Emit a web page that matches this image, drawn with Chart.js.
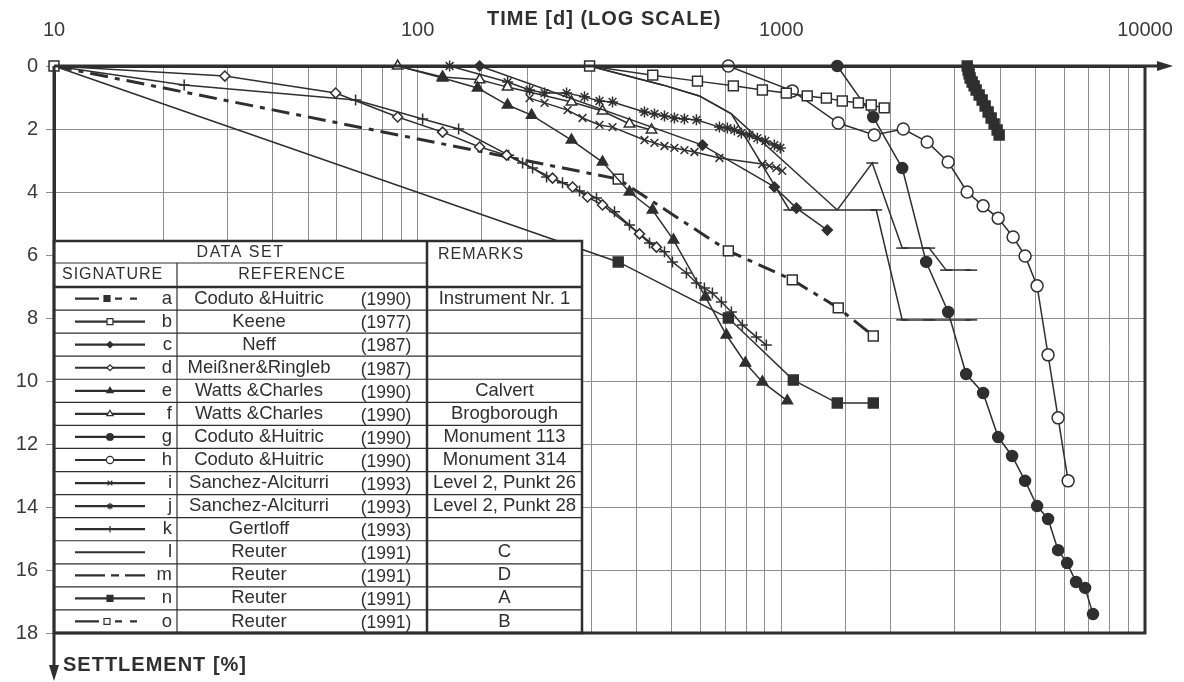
<!DOCTYPE html>
<html>
<head>
<meta charset="utf-8">
<title>Settlement over time</title>
<script src="https://cdn.jsdelivr.net/npm/chart.js@4.4.1/dist/chart.umd.min.js"></script>
<style>
  body { margin: 0; background: #fff; }
</style>
</head>
<body>
<canvas id="chart" width="1184" height="682"></canvas>
<script>
// axis labels
const timeLabels = [10, 100, 1000, 10000];

// a - Coduto & Huitric, Instrument Nr. 1
const aTime = [3244, 3263, 3284, 3305, 3347, 3390, 3433, 3499, 3566, 3634, 3704, 3775, 3847, 3921, 3971];
const aSettle = [0, 0.13, 0.25, 0.38, 0.51, 0.63, 0.76, 0.92, 1.08, 1.27, 1.46, 1.65, 1.84, 2.03, 2.19];
// b - Keene
const bTime = [10, 297, 443, 588, 738, 887, 1032, 1178, 1330, 1471, 1629, 1767, 1918];
const bSettle = [0, 0, 0.29, 0.48, 0.63, 0.76, 0.86, 0.95, 1.02, 1.11, 1.17, 1.24, 1.33];
// c - Neff
const cTime = [148, 607, 957, 1100, 1338];
const cSettle = [0, 2.51, 3.84, 4.51, 5.21];
// d - Meissner & Ringleb
const dTime = [10, 29.5, 59.5, 88.1, 117.1, 148, 175.6, 234.9, 266.6, 293.1, 322.3, 407.4, 453.6];
const dSettle = [0, 0.32, 0.86, 1.62, 2.10, 2.57, 2.83, 3.56, 3.84, 4.16, 4.41, 5.33, 5.75];
// e - Watts & Charles, Calvert
const eTime = [88.1, 117.1, 146.2, 176.7, 205.7, 264.9, 322.3, 382.3, 442.3, 505.1, 618.3, 706.2, 796.4, 886.7, 1038.7];
const eSettle = [0, 0.38, 0.70, 1.24, 1.56, 2.35, 3.05, 4.0, 4.57, 5.52, 7.33, 8.54, 9.43, 10.03, 10.63];
// f - Watts & Charles, Brogborough
const fTime = [88.1, 117.1, 148.1, 176.7, 264.9, 322.3, 382.3, 439.6];
const fSettle = [0, 0.35, 0.44, 0.67, 1.14, 1.43, 1.84, 2.03];
// g - Coduto & Huitric, Monument 113
const gTime = [1425, 1789, 2150, 2502, 2876, 3222, 3588, 3947, 4311, 4680, 5050, 5413, 5768, 6107, 6464, 6843, 7195];
const gSettle = [0, 1.62, 3.24, 6.22, 7.81, 9.78, 10.38, 11.78, 12.38, 13.17, 13.97, 14.38, 15.37, 15.78, 16.38, 16.57, 17.4];
// h - Coduto & Huitric, Monument 314
const hTime = [715, 1072, 1434, 1801, 2164, 2518, 2876, 3243, 3588, 3947, 4339, 4680, 5050, 5413, 5768, 6146];
const hSettle = [0, 0.79, 1.81, 2.19, 2.0, 2.41, 3.05, 4.0, 4.44, 4.83, 5.43, 6.03, 6.98, 9.17, 11.17, 13.17];
// i - Sanchez-Alciturri, Level 2, Punkt 26
const iTime = [203.1, 223.3, 258.3, 284, 316.2, 343.4, 420.4, 447.9, 477.2, 508.2, 541.4, 576.8, 675.6, 886.7, 926.8, 969, 1006];
const iSettle = [1.02, 1.17, 1.40, 1.65, 1.87, 1.94, 2.35, 2.44, 2.54, 2.60, 2.67, 2.73, 2.92, 3.11, 3.17, 3.24, 3.33];
// j - Sanchez-Alciturri, Level 2, Punkt 28
const jTime = [122.4, 176.7, 203.1, 223.3, 256.7, 287.6, 316.2, 343.4, 420.4, 447.9, 477.2, 508.2, 541.4, 584.1, 675.6, 710.7, 742.9, 776.5, 816.8, 859.1, 903.6, 956.7, 993.8];
const jSettle = [0, 0.51, 0.76, 0.86, 0.86, 0.98, 1.11, 1.14, 1.46, 1.52, 1.59, 1.65, 1.68, 1.71, 1.94, 1.97, 2.03, 2.13, 2.19, 2.29, 2.38, 2.51, 2.60];
// k - Gertloff
const kTime = [10, 22.8, 67.5, 103.2, 129.6, 177.9, 194.3, 207.0, 226.2, 250.2, 278.7, 310.3, 347.7, 382.3, 434.0, 477.2, 501.9, 548.3, 584.1, 614.4, 646.3, 684.2, 728.9, 781.4, 853.7, 909.4];
const kSettle = [0, 0.60, 1.08, 1.68, 2.0, 2.83, 3.08, 3.24, 3.52, 3.71, 3.97, 4.19, 4.63, 5.05, 5.62, 5.90, 6.22, 6.57, 6.89, 7.05, 7.21, 7.49, 7.81, 8.22, 8.60, 8.86];
// l - Reuter C
const lTime = [10, 296.9, 471.2, 595.3, 728.9, 1425, 1778, 2150, 2550, 2840, 3327];
const lSettle = [0, 0, 0.60, 0.95, 1.52, 4.57, 3.08, 5.78, 5.78, 6.48, 6.48];
// m - Reuter D
const mTime = [10, 296.9, 471.2, 595.3, 728.9, 1051.9, 1824, 2150, 2550, 3327];
const mSettle = [0, 0, 0.60, 0.95, 1.52, 4.57, 4.57, 8.06, 8.06, 8.06];
// n - Reuter A
const nTime = [10, 356, 715, 1079, 1425, 1790];
const nSettle = [0, 6.22, 8.0, 9.97, 10.70, 10.70];
// o - Reuter B
const oTime = [10, 356, 715, 1072, 1434, 1790];
const oSettle = [0, 3.59, 5.87, 6.79, 7.68, 8.57];

// legend table
const signatures = ['a', 'b', 'c', 'd', 'e', 'f', 'g', 'h', 'i', 'j', 'k', 'l', 'm', 'n', 'o'];
const references = ['Coduto &Huitric', 'Keene', 'Neff', 'Meißner&Ringleb', 'Watts &Charles', 'Watts &Charles',
    'Coduto &Huitric', 'Coduto &Huitric', 'Sanchez-Alciturri', 'Sanchez-Alciturri', 'Gertloff',
    'Reuter', 'Reuter', 'Reuter', 'Reuter'];
const years = ['(1990)', '(1977)', '(1987)', '(1987)', '(1990)', '(1990)', '(1990)', '(1990)', '(1993)', '(1993)',
    '(1993)', '(1991)', '(1991)', '(1991)', '(1991)'];
const remarks = ['Instrument Nr. 1', '', '', '', 'Calvert', 'Brogborough', 'Monument 113', 'Monument 314',
    'Level 2, Punkt 26', 'Level 2, Punkt 28', '', 'C', 'D', 'A', 'B'];

const ink = '#2f2f2f';
const gridGray = '#8e8e8e';
const fontFamily = '"Liberation Sans", Arial, sans-serif';

const looks = {
    a: { style: 'rect', r: 7, fill: true, dash: [10, 4, 3, 4], width: 2.5, key: [24, 16, 7, 8, 7, 40] },
    b: { style: 'rect', r: 7, fill: false },
    c: { style: 'rectRot', r: 5, fill: true },
    d: { style: 'rectRot', r: 5, fill: false },
    e: { style: 'triangle', r: 6, fill: true },
    f: { style: 'triangle', r: 6, fill: false },
    g: { style: 'circle', r: 5.5, fill: true },
    h: { style: 'circle', r: 6, fill: false },
    i: { style: 'crossRot', r: 5.5, fill: false },
    j: { style: 'star', r: 5.5, fill: false },
    k: { style: 'cross', r: 5.5, fill: false },
    l: { style: 'line', r: 6, fill: false },
    m: { style: 'line', r: 6, fill: false, key: [30, 6, 8, 6, 40] },
    n: { style: 'rect', r: 7, fill: true },
    o: { style: 'rect', r: 7, fill: false, dash: [18, 7, 5, 7], width: 3, key: [24, 16, 7, 8, 7, 40] }
};

function series(time, settle) {
    return time.map((t, i) => ({ x: t, y: settle[i] }));
}

function makeSet(id, time, settle, radius) {
    const lk = looks[id];
    return {
        label: id,
        data: series(time, settle),
        showLine: true,
        clip: false,
        borderColor: ink,
        borderWidth: lk.width || 1.5,
        borderDash: lk.dash || [],
        pointStyle: lk.style,
        pointRadius: radius !== undefined ? radius : lk.r,
        pointBorderColor: ink,
        pointBorderWidth: 1.5,
        pointBackgroundColor: lk.fill ? ink : '#fff'
    };
}

const fromSecond = r => c => (c.dataIndex === 0 ? 0 : r);
const capsFrom = (k, r) => c => (c.dataIndex >= k ? r : 0);

function line(ctx, x0, y0, x1, y1) {
    ctx.beginPath();
    ctx.moveTo(x0, y0);
    ctx.lineTo(x1, y1);
    ctx.stroke();
}

function drawKey(ctx, id, x0, x1, y) {
    const lk = looks[id];
    ctx.save();
    ctx.strokeStyle = ink;
    ctx.lineWidth = 2.2;
    ctx.setLineDash(lk.key || []);
    line(ctx, x0, y, x1, y);
    ctx.setLineDash([]);
    if (lk.style !== 'line') {
        const cx = lk.key ? x0 + 32 : (x0 + x1) / 2;
        ctx.fillStyle = lk.fill ? ink : '#fff';
        ctx.lineWidth = 1.2;
        Chart.helpers.drawPoint(ctx, { pointStyle: lk.style, radius: lk.r * 0.6, rotation: 0, borderWidth: 1.2 }, cx, y);
    }
    ctx.restore();
}

const legendTable = {
    id: 'legendTable',
    afterDatasetsDraw(chart) {
        const { ctx, chartArea: a } = chart;
        const left = a.left, right = a.left + 528, top = a.top + 175, bottom = a.bottom;
        const c1 = left + 123, c2 = left + 373;
        const h1 = top + 22, h2 = top + 46;
        const rowH = (bottom - h2) / signatures.length;
        ctx.save();
        ctx.fillStyle = '#fff';
        ctx.fillRect(left, top, right - left, bottom - top);
        ctx.strokeStyle = ink;
        ctx.lineWidth = 1.2;
        for (let i = 1; i < signatures.length; i++) {
            line(ctx, left, h2 + i * rowH, right, h2 + i * rowH);
        }
        line(ctx, left, h1, c2, h1);
        line(ctx, c1, h1, c1, bottom);
        ctx.lineWidth = 2.5;
        line(ctx, c2, top, c2, bottom);
        line(ctx, left, h2, right, h2);
        ctx.strokeRect(left, top, right - left, bottom - top);

        ctx.fillStyle = ink;
        ctx.textBaseline = 'middle';
        ctx.font = '16px ' + fontFamily;
        ctx.letterSpacing = '1.5px';
        ctx.textAlign = 'center';
        ctx.fillText('DATA SET', (left + c2) / 2, top + 12);
        ctx.letterSpacing = '1px';
        ctx.fillText('REFERENCE', c1 + 115, h1 + 12);
        ctx.textAlign = 'left';
        ctx.fillText('REMARKS', c2 + 11, top + 14);
        ctx.fillText('SIGNATURE', left + 8, h1 + 12);
        ctx.letterSpacing = '0px';

        signatures.forEach((id, i) => {
            const y = h2 + (i + 0.5) * rowH;
            drawKey(ctx, id, left + 21, left + 91, y);
            ctx.fillStyle = ink;
            ctx.font = '18.5px ' + fontFamily;
            ctx.textAlign = 'right';
            ctx.fillText(id, c1 - 5, y);
            ctx.textAlign = 'center';
            ctx.fillText(references[i], c1 + 82, y);
            ctx.fillText(remarks[i], (c2 + right) / 2, y);
            ctx.font = '17.5px ' + fontFamily;
            ctx.fillText(years[i], c1 + 209, y + 2);
        });
        ctx.restore();
    }
};

const frame = {
    id: 'frame',
    afterDraw(chart) {
        const { ctx, chartArea: a } = chart;
        ctx.save();
        ctx.strokeStyle = ink;
        ctx.fillStyle = ink;
        ctx.lineWidth = 3;
        ctx.beginPath();
        ctx.moveTo(a.right, a.top);
        ctx.lineTo(a.right, a.bottom);
        ctx.lineTo(a.left, a.bottom);
        ctx.stroke();
        line(ctx, a.left, a.top, a.left, a.bottom + 36);
        line(ctx, a.left, a.top, a.right + 14, a.top);
        ctx.beginPath();
        ctx.moveTo(a.left - 5, a.bottom + 32);
        ctx.lineTo(a.left + 5, a.bottom + 32);
        ctx.lineTo(a.left, a.bottom + 48);
        ctx.closePath();
        ctx.fill();
        ctx.beginPath();
        ctx.moveTo(a.right + 12, a.top - 5);
        ctx.lineTo(a.right + 12, a.top + 5);
        ctx.lineTo(a.right + 28, a.top);
        ctx.closePath();
        ctx.fill();

        ctx.font = 'bold 20px ' + fontFamily;
        ctx.letterSpacing = '1px';
        ctx.textBaseline = 'middle';
        ctx.textAlign = 'left';
        ctx.fillText('TIME [d] (LOG SCALE)', 487, 19);
        ctx.fillText('SETTLEMENT [%]', 63, 665);
        ctx.restore();
    }
};

new Chart(document.getElementById('chart'), {
    type: 'scatter',
    data: {
        datasets: [
            makeSet('a', aTime, aSettle),
            makeSet('b', bTime, bSettle),
            makeSet('c', cTime, cSettle),
            makeSet('d', dTime, dSettle, fromSecond(5)),
            makeSet('e', eTime, eSettle, fromSecond(6)),
            makeSet('f', fTime, fSettle),
            makeSet('g', gTime, gSettle),
            makeSet('h', hTime, hSettle),
            makeSet('i', iTime, iSettle),
            makeSet('j', jTime, jSettle),
            makeSet('k', kTime, kSettle, fromSecond(5.5)),
            makeSet('l', lTime, lSettle, capsFrom(6, 6)),
            makeSet('m', mTime, mSettle, capsFrom(5, 6)),
            makeSet('n', nTime, nSettle, fromSecond(7)),
            makeSet('o', oTime, oSettle, fromSecond(7))
        ]
    },
    options: {
        responsive: false,
        animation: false,
        events: [],
        layout: { padding: { top: 0, left: 0, right: 39, bottom: 49 } },
        plugins: { legend: { display: false }, tooltip: { enabled: false } },
        scales: {
            x: {
                type: 'logarithmic',
                position: 'top',
                min: 10,
                max: 10000,
                afterFit: s => { s.height = 66; s.paddingLeft = 0; s.paddingRight = 0; },
                border: { color: ink, width: 3 },
                grid: { color: gridGray, lineWidth: 1, drawTicks: false },
                ticks: {
                    autoSkip: false,
                    maxRotation: 0,
                    padding: 24,
                    color: '#3a3a3a',
                    font: { family: fontFamily, size: 20 },
                    callback: v => (timeLabels.includes(v) ? String(v) : '')
                }
            },
            y: {
                type: 'linear',
                reverse: true,
                min: 0,
                max: 18,
                afterFit: s => { s.width = 54; s.paddingTop = 0; s.paddingBottom = 0; },
                border: { color: ink, width: 3 },
                grid: { color: gridGray, lineWidth: 1, tickLength: 8 },
                ticks: {
                    stepSize: 2,
                    padding: 8,
                    color: '#3a3a3a',
                    font: { family: fontFamily, size: 20 }
                }
            }
        }
    },
    plugins: [legendTable, frame]
});
</script>
</body>
</html>
